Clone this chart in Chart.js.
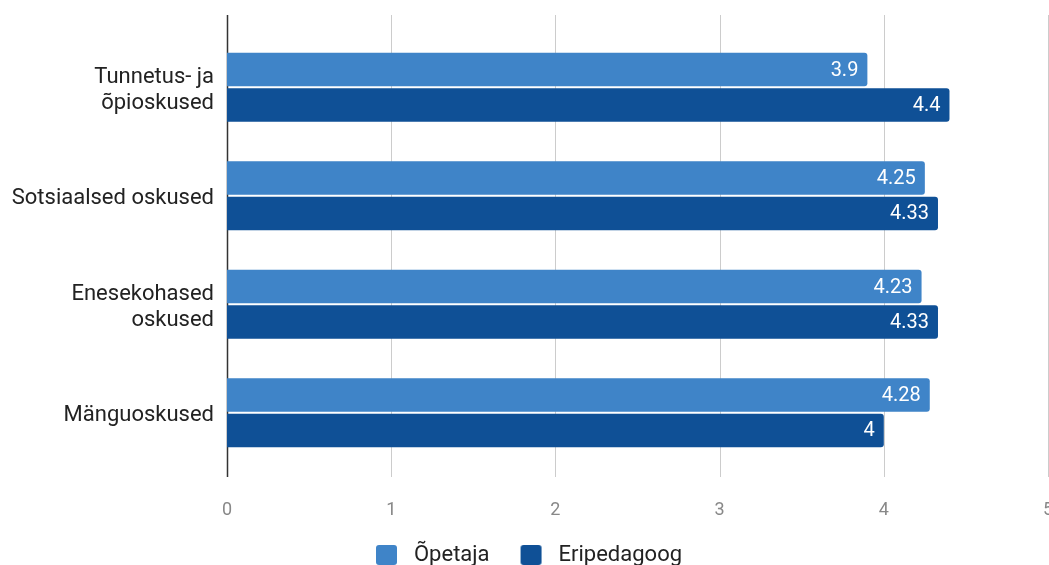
<!DOCTYPE html>
<html>
<head>
<meta charset="utf-8">
<script src="https://cdn.jsdelivr.net/npm/chart.js@4/dist/chart.umd.min.js"></script>
<style>
    html, body { margin: 0; padding: 0; background: #fff; overflow: hidden; }
    #wrap { width: 1054px; height: 565px; position: relative; }
</style>
</head>
<body>
<div id="wrap"><canvas id="chart"></canvas></div>
<script>
// Chart data
const categories = [['Tunnetus- ja', 'õpioskused'], 'Sotsiaalsed oskused', ['Enesekohased', 'oskused'], 'Mänguoskused'];
const opetaja = [3.9, 4.25, 4.23, 4.28];
const eripedagoog = [4.4, 4.33, 4.33, 4];
const xTicks = [0, 1, 2, 3, 4, 5];
const seriesColors = ['#3f84c8', '#0f5096'];

const FONT = 'Roboto, "Noto Sans", sans-serif';

// Legend swatch: rounded square with some empty space on each side
function makeSwatch(color) {
    const c = document.createElement('canvas');
    c.width = 37;
    c.height = 20;
    const g = c.getContext('2d');
    g.fillStyle = color;
    g.beginPath();
    if (g.roundRect) g.roundRect(10, 0, 21, 20, 3); else g.rect(10, 0, 21, 20);
    g.fill();
    return c;
}
const swatches = seriesColors.map(makeSwatch);

// Vertical grid lines, a bit taller than the plot area
const gridPlugin = {
    id: 'tallGrid',
    beforeDatasetsDraw(chart) {
        const { ctx, chartArea, scales } = chart;
        ctx.save();
        scales.x.ticks.forEach(t => {
            const x = Math.round(scales.x.getPixelForValue(t.value)) + 0.5;
            ctx.beginPath();
            ctx.strokeStyle = t.value === 0 ? '#333333' : '#cccccc';
            ctx.lineWidth = t.value === 0 ? 1.5 : 1;
            ctx.moveTo(x, chartArea.top - 18);
            ctx.lineTo(x, chartArea.bottom + 10);
            ctx.stroke();
        });
        ctx.restore();
    }
};

// Value labels inside the bar ends
const valuePlugin = {
    id: 'barValues',
    afterDatasetsDraw(chart) {
        const { ctx } = chart;
        ctx.save();
        ctx.font = '20px ' + FONT;
        ctx.fillStyle = '#ffffff';
        ctx.textAlign = 'right';
        ctx.textBaseline = 'middle';
        chart.data.datasets.forEach((ds, i) => {
            chart.getDatasetMeta(i).data.forEach((bar, j) => {
                ctx.fillText(String(ds.data[j]), bar.x - 9, bar.y + 1);
            });
        });
        ctx.restore();
    }
};

new Chart(document.getElementById('chart'), {
    type: 'bar',
    data: {
        labels: categories,
        datasets: [
            { label: 'Õpetaja', data: opetaja, backgroundColor: seriesColors[0] },
            { label: 'Eripedagoog', data: eripedagoog, backgroundColor: seriesColors[1] }
        ]
    },
    options: {
        indexAxis: 'y',
        responsive: true,
        maintainAspectRatio: false,
        animation: false,
        categoryPercentage: 0.65,
        barPercentage: 0.95,
        borderRadius: 3,
        layout: { padding: { top: 33, bottom: -11, left: 0, right: 6 } },
        scales: {
            x: {
                min: 0,
                max: 5,
                afterBuildTicks(axis) { axis.ticks = xTicks.map(v => ({ value: v })); },
                afterFit(axis) {
                    axis.height = 56;
                    axis.paddingLeft = 6;
                    axis.paddingRight = 6;
                },
                grid: { display: false, drawTicks: false },
                border: { display: false },
                ticks: { color: '#888888', font: { family: FONT, size: 18 }, padding: 33 }
            },
            y: {
                grid: { display: false, drawTicks: false },
                border: { display: false },
                afterFit(axis) { axis.width = 227; },
                ticks: { color: '#222222', font: { family: FONT, size: 22, lineHeight: 1.16 }, padding: 13, labelOffset: 3 }
            }
        },
        plugins: {
            legend: {
                position: 'bottom',
                labels: {
                    color: '#222222',
                    font: { family: FONT, size: 22 },
                    usePointStyle: true,
                    pointStyleWidth: 37,
                    boxHeight: 20,
                    padding: 21,
                    generateLabels(chart) {
                        const items = Chart.defaults.plugins.legend.labels.generateLabels(chart);
                        items.forEach((it, i) => { it.pointStyle = swatches[i]; });
                        return items;
                    }
                }
            },
            tooltip: { enabled: false }
        }
    },
    plugins: [gridPlugin, valuePlugin]
});
</script>
</body>
</html>
